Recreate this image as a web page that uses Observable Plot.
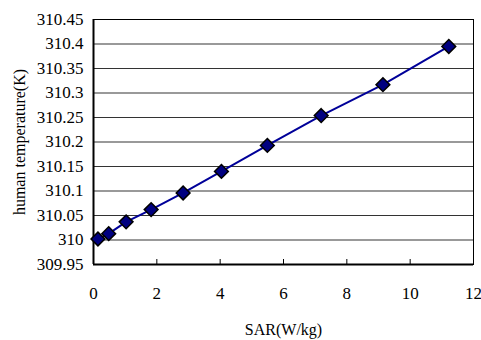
<!DOCTYPE html>
<html><head><meta charset="utf-8">
<script src="https://cdn.jsdelivr.net/npm/d3@7"></script>
<script src="https://cdn.jsdelivr.net/npm/@observablehq/plot@0.6"></script>
<style>body{margin:0;background:#fff;} svg text{font-family:"Liberation Serif","Times New Roman",serif !important;}</style>
</head><body><div id="chart"></div>
<script>
const sar = [0.14, 0.48, 1.03, 1.82, 2.83, 4.04, 5.49, 7.19, 9.14, 11.22];
const temperature = [310.002, 310.013, 310.037, 310.062, 310.096, 310.140, 310.193, 310.254, 310.317, 310.395];
const xTicks = [0, 2, 4, 6, 8, 10, 12];
const yTicks = [309.95, 310, 310.05, 310.1, 310.15, 310.2, 310.25, 310.3, 310.35, 310.4, 310.45];
const data = sar.map((x, i) => ({x, y: temperature[i]}));
const fmtY = d => String(+d.toFixed(2));
const serif = "'Liberation Serif', 'Times New Roman', serif";

const chart = Plot.plot({
  width: 481, height: 340,
  marginLeft: 93, marginRight: 8, marginTop: 19, marginBottom: 76,
  style: {fontFamily: serif, background: "#fff", color: "#000"},
  x: {domain: [0, 12]},
  y: {domain: [309.95, 310.45]},
  marks: [
    Plot.gridY(yTicks, {stroke: "#000", strokeOpacity: 0.8, strokeWidth: 1}),
    Plot.frame({stroke: "#000", strokeWidth: 1}),
    Plot.ruleX([0], {stroke: "#000", strokeWidth: 2}),
    Plot.ruleY([309.95], {stroke: "#000", strokeWidth: 2}),
    Plot.axisX(xTicks.slice(1, -1), {tickSize: 5, dy: -5, text: null, label: null, stroke: "#000"}),
    Plot.axisX(xTicks, {tickSize: 0, tickPadding: 22, fontSize: 17, fontFamily: serif, label: "SAR(W/kg)", labelAnchor: "center", labelArrow: "none", labelOffset: 70}),
    Plot.axisY(yTicks, {tickSize: 0, tickPadding: 10, fontSize: 17, fontFamily: serif, tickFormat: fmtY, label: "human temperature(K)", labelAnchor: "center", labelArrow: "none", labelOffset: 80}),
    Plot.line(data, {x: "x", y: "y", stroke: "#000099", strokeWidth: 2}),
    Plot.dot(data, {x: "x", y: "y", symbol: "diamond2", r: 6.2, fill: "#000080", stroke: "#000", strokeWidth: 1.5})
  ]
});
chart.querySelectorAll('[aria-label="x-axis label"] text, [aria-label="y-axis label"] text').forEach(t => t.setAttribute("font-size", "16"));
document.getElementById("chart").appendChild(chart);
</script></body></html>
